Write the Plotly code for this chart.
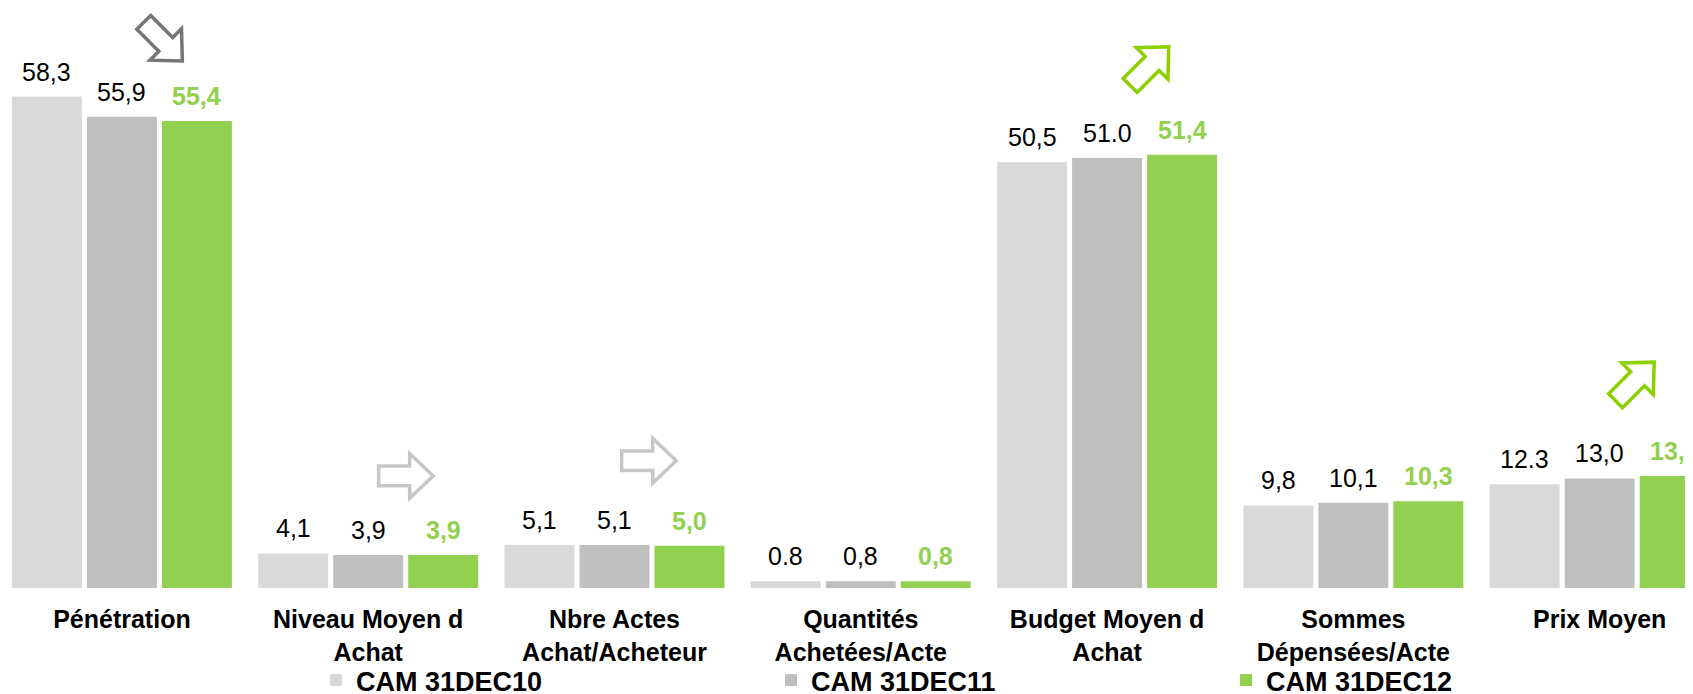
import math
import plotly.graph_objects as go

categories = ["Pénétration", "Niveau Moyen d<br>Achat", "Nbre Actes<br>Achat/Acheteur",
              "Quantités<br>Achetées/Acte", "Budget Moyen d<br>Achat",
              "Sommes<br>Dépensées/Acte", "Prix Moyen"]
series_names = ["CAM 31DEC10", "CAM 31DEC11", "CAM 31DEC12"]
cam10 = [58.3, 4.1, 5.1, 0.8, 50.5, 9.8, 12.3]
cam11 = [55.9, 3.9, 5.1, 0.8, 51.0, 10.1, 13.0]
cam12 = [55.4, 3.9, 5.0, 0.8, 51.4, 10.3, 13.3]
labels10 = ["58,3", "4,1", "5,1", "0.8", "50,5", "9,8", "12.3"]
labels11 = ["55,9", "3,9", "5,1", "0,8", "51.0", "10,1", "13,0"]
labels12 = ["55,4", "3,9", "5,0", "0,8", "51,4", "10,3", "13,3"]

colors = ["#d9d9d9", "#bfbfbf", "#92d050"]
FONT = "Liberation Sans, Arial, sans-serif"
BARGAP = 0.0865
SLOT = (1 - BARGAP) / 3

# trend arrows: (category position, y value, angle, colour)
arrows = [
    (0.167, 64.8, -45, "#767676"),
    (1.153, 13.3, 0, "#c6c6c6"),
    (2.140, 15.1, 0, "#c6c6c6"),
    (4.172, 61.9, 45, "#8cd000"),
    (6.143, 24.5, 45, "#8cd000"),
]


def arrow_path(angle):
    pts = [(-27.3, -9.8), (3.8, -9.8), (3.8, -22.3), (27.3, 0),
           (3.8, 22.3), (3.8, 9.8), (-27.3, 9.8)]
    a = math.radians(angle)
    out = []
    for x, y in pts:
        rx = x * math.cos(a) - y * math.sin(a)
        ry = x * math.sin(a) + y * math.cos(a)
        out.append(f"{rx:.2f},{ry:.2f}")
    return "M" + " L".join(out) + " Z"


fig = go.Figure()
all_vals = [cam10, cam11, cam12]
all_labels = [labels10, labels11, labels12]
for j, (name, vals) in enumerate(zip(series_names, all_vals)):
    fig.add_trace(go.Bar(x=categories, y=vals, name=name, marker_color=colors[j],
                         marker_line_width=0))

annotations = []
for j, (vals, labs) in enumerate(zip(all_vals, all_labels)):
    for i, (v, t) in enumerate(zip(vals, labs)):
        green = j == 2
        annotations.append(dict(
            x=i + (j - 1) * SLOT, y=v, text=t, showarrow=False,
            yanchor="bottom", yshift=9,
            font=dict(family=FONT, size=25, color="#92d050" if green else "black",
                      weight="bold" if green else "normal")))

shapes = []
for xa, ya, ang, col in arrows:
    shapes.append(dict(type="path", xref="x", yref="y", xsizemode="pixel",
                       ysizemode="pixel", xanchor=xa, yanchor=ya,
                       path=arrow_path(ang), line=dict(color=col, width=3.5),
                       fillcolor="rgba(0,0,0,0)"))

# page body has an 8px margin, so the figure is 8px smaller each way
fig.update_layout(
    template="none",
    width=1685, height=686,
    margin=dict(l=0, r=0, t=0, b=106, autoexpand=False),
    paper_bgcolor="white", plot_bgcolor="white",
    barmode="group", bargap=BARGAP, bargroupgap=0.067,
    font=dict(family=FONT, color="black"),
    annotations=annotations, shapes=shapes,
    legend=dict(orientation="h", x=0.1828, y=-0.1595, xanchor="left", yanchor="middle",
                entrywidth=410, entrywidthmode="pixels",
                font=dict(family=FONT, size=27, weight="bold", color="black"),
                bgcolor="rgba(0,0,0,0)"),
)
fig.update_xaxes(range=[-0.4625, 6.379], showgrid=False, zeroline=False, showline=False,
                 ticks="", ticklabelstandoff=14,
                 tickfont=dict(family=FONT, size=25, weight="bold", color="black"))
fig.update_yaxes(range=[0, 68.8], visible=False, showgrid=False, zeroline=False)

fig.write_html("out.html")
